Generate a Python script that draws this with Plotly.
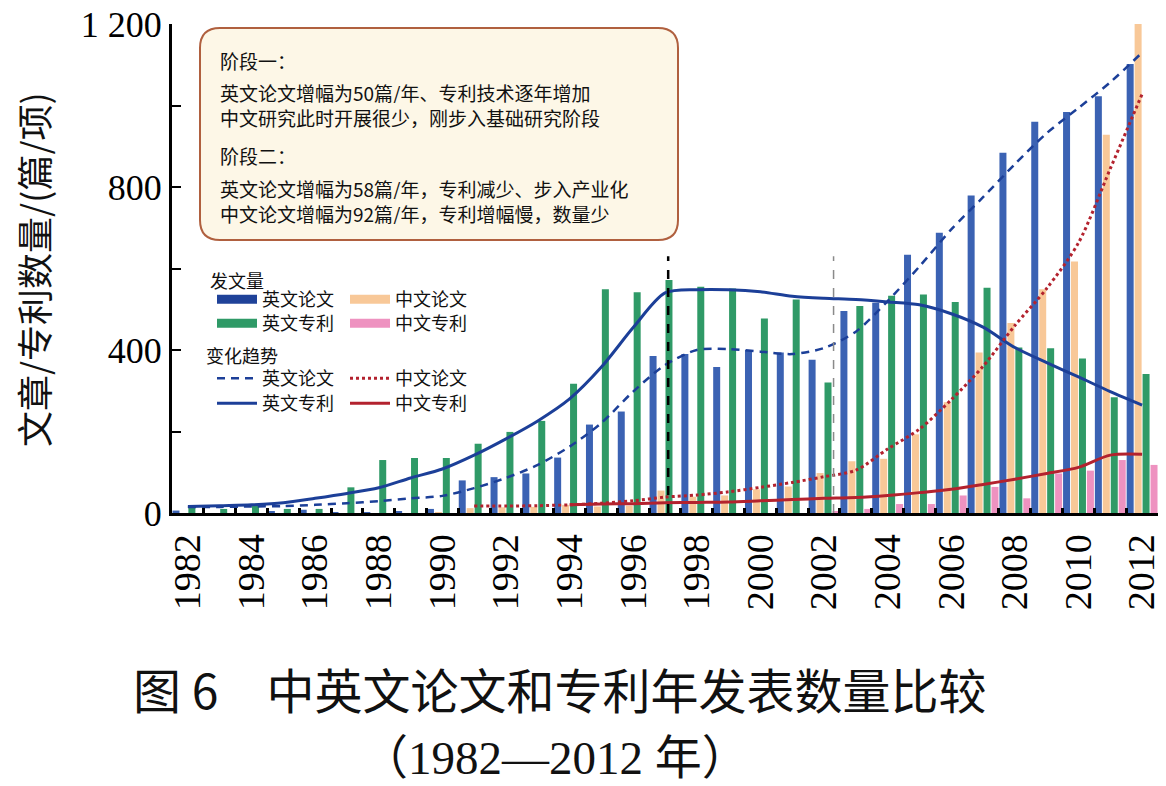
import plotly.graph_objects as go

# ---------------- data ----------------
YEARS = list(range(1982, 2013))
EN_PAPER = [6, 0, 0, 4, 8, 2, 2, 3, 10, 80, 88, 97, 136, 217, 249, 385, 390, 358, 400, 394,
            376, 496, 516, 634, 688, 779, 884, 960, 984, 1023, 1102]
CN_PAPER = [0, 0, 0, 0, 0, 0, 0, 0, 2, 12, 14, 15, 20, 16, 18, 55, 40, 43, 58, 65,
            98, 127, 133, 193, 272, 394, 466, 549, 617, 928, 1200]
EN_PATENT = [16, 10, 18, 10, 10, 63, 130, 135, 135, 170, 199, 226, 317, 549, 542, 572, 555, 551, 477, 524,
             320, 508, 533, 536, 518, 553, 406, 404, 379, 284, 341]
CN_PATENT = [0, 0, 0, 0, 0, 0, 0, 0, 0, 0, 0, 0, 0, 0, 0, 0, 0, 0, 0, 0,
             3, 10, 22, 22, 43, 64, 36, 97, 104, 130, 118]

EN_PAPER_TREND = [15, 15, 16, 17, 20, 24, 29, 36, 42, 61, 86, 118, 163, 221, 298, 363, 400, 402, 396, 390,
                  405, 445, 520, 605, 696, 775, 856, 932, 994, 1057, 1130]
EN_PATENT_TREND = [16, 18, 20, 25, 36, 48, 62, 86, 108, 142, 182, 226, 280, 358, 455, 540, 548, 548, 543, 532,
                   527, 524, 518, 511, 489, 456, 406, 369, 334, 298, 265]
CN_PAPER_TREND = [None] * 9 + [17, 17, 18, 20, 24, 30, 39, 44, 52, 63, 75,
                               89, 105, 157, 206, 278, 360, 460, 551, 663, 845, 1028]
CN_PATENT_TREND = [None] * 12 + [20, 22, 23, 25, 26, 27, 30, 33,
                                 36, 38, 43, 50, 58, 70, 83, 97, 112, 142, 144]

STAGE_MARKS = [1997.1, 2002.3]
STAGE_MARK_TOP = 630

X_TICKS = [y for y in YEARS if y % 2 == 0]
X_TICK_TEXT = [str(y) for y in X_TICKS]

BOX_LINES = [
    "阶段一：",
    "英文论文增幅为50篇/年、专利技术逐年增加",
    "中文研究此时开展很少，刚步入基础研究阶段",
    "阶段二：",
    "英文论文增幅为58篇/年，专利减少、步入产业化",
    "中文论文增幅为92篇/年，专利增幅慢，数量少",
]

# ---------------- styles ----------------
C_BLUE = "#3b62b3"
C_BLUE_KEY = "#1f4299"
C_ORANGE = "#f8c898"
C_GREEN = "#2f9a67"
C_PINK = "#ee92c0"
C_TBLUE = "#1c3f98"
C_TRED = "#b3222e"

FONT = "Liberation Serif, Noto Sans CJK SC, serif"
CJK = "Noto Sans CJK SC, Liberation Serif, sans-serif"

# page layout (the browser body has an 8px default margin)
PAGE_W, PAGE_H, OFF = 1166, 786, 8
W, H = PAGE_W - OFF, PAGE_H - OFF
PLOT_L, PLOT_R, PLOT_T, PLOT_B = 172, 1158, 24, 513     # in page pixels
L, T = PLOT_L - OFF, PLOT_T - OFF
R, B = W - (PLOT_R - OFF), H - (PLOT_B - OFF)
PW = PLOT_R - PLOT_L
PH = PLOT_B - PLOT_T


def px_x(px):
    return (px - PLOT_L) / PW


def px_y(py):
    return (PLOT_B - py) / PH


fig = go.Figure()

bar_specs = [("英文论文", EN_PAPER, C_BLUE), ("中文论文", CN_PAPER, C_ORANGE),
             ("英文专利", EN_PATENT, C_GREEN), ("中文专利", CN_PATENT, C_PINK)]
for name, vals, col in bar_specs:
    fig.add_trace(go.Bar(x=YEARS, y=vals, name=name, marker=dict(color=col, line=dict(width=0)),
                         showlegend=False))

# legend slots: (row y, column x) in page pixels
ROW_Y = [298, 322, 377, 402]
COL_X = [212, 345]

# trend lines
trend_specs = [
    ("英文论文", EN_PAPER_TREND, dict(color=C_TBLUE, width=2.5, dash="8px,6px"), "legend5"),
    ("英文专利", EN_PATENT_TREND, dict(color=C_TBLUE, width=3), "legend7"),
    ("中文论文", CN_PAPER_TREND, dict(color=C_TRED, width=3, dash="dot"), "legend6"),
    ("中文专利", CN_PATENT_TREND, dict(color=C_TRED, width=3), "legend8"),
]
for name, vals, ln, lg in trend_specs:
    fig.add_trace(go.Scatter(x=YEARS, y=vals, mode="lines", name=name,
                             line=dict(shape="spline", smoothing=0.8, **ln), legend=lg))

# legend proxies for bars (wide swatches)
proxy_legend = {"英文论文": "legend", "中文论文": "legend2", "英文专利": "legend3", "中文专利": "legend4"}
for name, vals, col in bar_specs:
    key_col = C_BLUE_KEY if col == C_BLUE else col
    fig.add_trace(go.Scatter(x=[None], y=[None], mode="lines", name=name,
                             line=dict(color=key_col, width=9), legend=proxy_legend[name]))

# stage marks
for i, xm in enumerate(STAGE_MARKS):
    fig.add_shape(type="line", xref="x", yref="y", x0=xm, x1=xm, y0=0, y1=STAGE_MARK_TOP,
                  line=dict(color="black" if i == 0 else "#8a8a8a", width=2.5 if i == 0 else 1.5,
                            dash="dash"), layer="above")

# rounded annotation box
x0, x1, y0, y1 = px_x(200), px_x(678), px_y(28), px_y(240)
rx, ry = 20 / PW, 20 / PH
path = (f"M{x0 + rx},{y0} L{x1 - rx},{y0} Q{x1},{y0} {x1},{y0 - ry} "
        f"L{x1},{y1 + ry} Q{x1},{y1} {x1 - rx},{y1} L{x0 + rx},{y1} Q{x0},{y1} {x0},{y1 + ry} "
        f"L{x0},{y0 - ry} Q{x0},{y0} {x0 + rx},{y0} Z")
fig.add_shape(type="path", xref="paper", yref="paper", path=path,
              fillcolor="#fdf7e7", line=dict(color="#b0603f", width=2), layer="above")

line_py = [60, 92, 117, 155, 188, 213]
for txt, py in zip(BOX_LINES, line_py):
    fig.add_annotation(text=txt, xref="paper", yref="paper", x=px_x(218), y=px_y(py),
                       xanchor="left", yanchor="middle", showarrow=False, height=22,
                       font=dict(family=CJK, size=19, color="#111"))

# legend headings
fig.add_annotation(text="发文量", xref="paper", yref="paper", x=px_x(208), y=px_y(280),
                   xanchor="left", yanchor="middle", showarrow=False, height=20,
                   font=dict(family=CJK, size=18, color="#111"))
fig.add_annotation(text="变化趋势", xref="paper", yref="paper", x=px_x(204), y=px_y(355),
                   xanchor="left", yanchor="middle", showarrow=False, height=20,
                   font=dict(family=CJK, size=18, color="#111"))

# y-axis title
fig.add_annotation(text="文章/专利数量/(篇/项)", xref="paper", yref="paper",
                   x=px_x(33), y=px_y(270), textangle=-90, showarrow=False,
                   xanchor="center", yanchor="middle",
                   font=dict(family=CJK, size=36, color="#111"))

# caption
fig.add_annotation(text="图 6　中英文论文和专利年发表数量比较", xref="paper", yref="paper",
                   x=px_x(559), y=px_y(688), showarrow=False, xanchor="center", yanchor="middle",
                   font=dict(family=CJK, size=48, color="#111"))
fig.add_annotation(text="（1982—2012 年）", xref="paper", yref="paper",
                   x=px_x(555), y=px_y(758), showarrow=False, xanchor="center", yanchor="middle",
                   font=dict(family=FONT, size=47, color="#111"))

leg_common = dict(bgcolor="rgba(0,0,0,0)", borderwidth=0, font=dict(family=CJK, size=18, color="#111"),
                  xanchor="left", yanchor="top", itemwidth=40, tracegroupgap=0)
legends = {}
for k in range(8):
    row, col = divmod(k, 2)
    key = "legend" if k == 0 else f"legend{k + 1}"
    legends[key] = dict(x=px_x(COL_X[col]), y=px_y(ROW_Y[row] - 17), **leg_common)

fig.update_layout(
    width=W, height=H,
    margin=dict(l=L, r=R, t=T, b=B, autoexpand=False),
    paper_bgcolor="white", plot_bgcolor="white",
    barmode="group", bargap=0.0, bargroupgap=0.12,
    separators=". ",
    font=dict(family=FONT, color="black"),
    xaxis=dict(range=[1981.5, 2012.5], tickmode="array", tickvals=X_TICKS, ticktext=X_TICK_TEXT,
               tickangle=-90, ticks="inside", ticklen=0, showgrid=False, zeroline=False,
               showline=True, linecolor="black", linewidth=3, ticklabeloverflow="allow",
               tickfont=dict(family=FONT, size=38, color="black"), ticklabelstandoff=3,
               minor=dict(tickmode="linear", tick0=1981.5, dtick=1, ticks="inside", ticklen=5,
                          tickwidth=3, tickcolor="black")),
    yaxis=dict(range=[0, 1200], dtick=400, tick0=0, ticks="inside", ticklen=9, tickwidth=2,
               tickcolor="black", separatethousands=True, showgrid=False, zeroline=False,
               showline=True, linecolor="black", linewidth=3, ticklabeloverflow="allow",
               tickfont=dict(family=FONT, size=36, color="black"), ticklabelstandoff=0,
               minor=dict(dtick=200, ticks="inside", ticklen=9, tickwidth=2, tickcolor="black")),
    **legends,
)

fig.write_html("out.html")
